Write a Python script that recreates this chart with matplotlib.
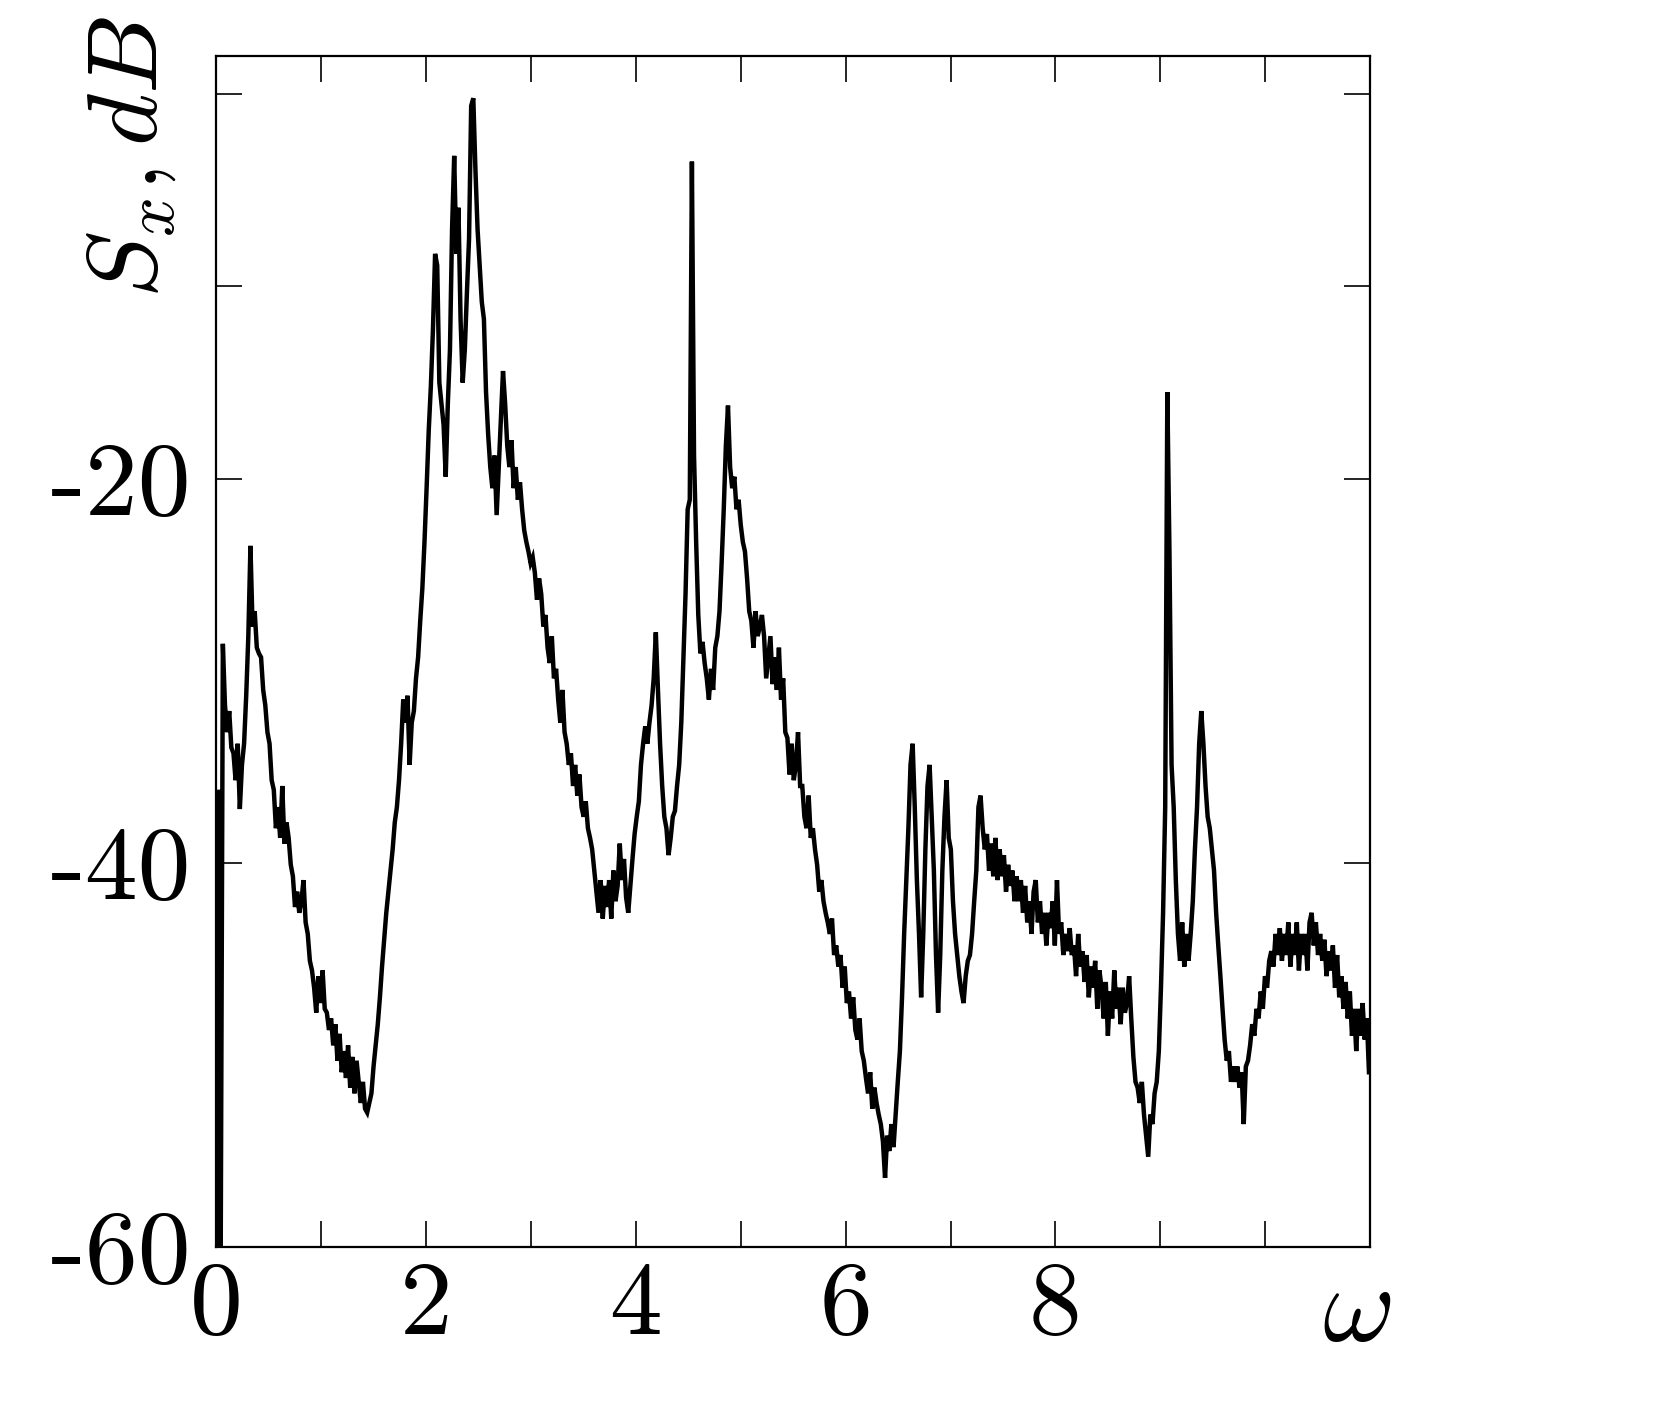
import numpy as np
import matplotlib
matplotlib.use("Agg")
import matplotlib.pyplot as plt

plt.rcParams['font.family'] = ['cmr10', 'DejaVu Serif']
plt.rcParams['mathtext.fontset'] = 'cm'
plt.rcParams['axes.unicode_minus'] = False

# spectrum S_x (dB) sampled on a uniform omega grid
omega_step = 0.02024
S_x = [
    -60.0, -36.2, -60.0, -28.6, -31.8, -33.2, -32.1, -34.0, -34.3, -35.7,
    -33.8, -37.2, -34.9, -33.8, -31.3, -28.2, -23.5, -27.7, -26.9, -28.8,
    -29.1, -29.3, -31.0, -31.8, -33.2, -33.8, -35.7, -36.2, -38.2, -37.1,
    -38.7, -36.0, -39.0, -37.9, -38.7, -40.1, -40.7, -42.3, -41.5, -42.6,
    -42.0, -40.9, -43.1, -43.7, -45.1, -45.6, -46.5, -47.8, -45.9, -47.3,
    -45.6, -47.6, -47.8, -48.7, -48.1, -49.5, -48.4, -50.3, -48.9, -50.9,
    -49.8, -51.2, -49.5, -51.7, -50.1, -52.0, -50.3, -51.4, -52.5, -51.4,
    -52.8, -53.0, -52.5, -52.0, -50.6, -49.5, -48.4, -47.0, -45.4, -44.0,
    -42.6, -41.5, -40.4, -39.3, -37.9, -37.1, -35.7, -33.8, -31.5, -32.7,
    -31.3, -34.9, -32.7, -32.1, -30.4, -29.3, -27.4, -25.7, -23.3, -20.5,
    -17.5, -15.2, -12.2, -8.3, -8.9, -15.0, -16.1, -17.2, -19.9, -16.1,
    -13.3, -7.0, -3.2, -8.3, -5.9, -11.7, -15.0, -13.3, -10.3, -7.5,
    -0.6, -0.2, -3.9, -7.0, -8.9, -10.8, -11.7, -15.5, -17.7, -19.4,
    -20.5, -18.8, -21.9, -19.4, -16.9, -14.4, -16.1, -18.3, -19.4, -18.0,
    -20.5, -19.4, -21.1, -20.2, -21.6, -22.7, -23.3, -23.8, -24.4, -24.1,
    -24.9, -26.3, -25.2, -26.0, -27.7, -27.1, -28.8, -29.6, -28.2, -30.4,
    -29.9, -31.5, -32.7, -31.0, -33.2, -33.8, -34.9, -34.3, -36.0, -34.9,
    -36.5, -35.4, -37.1, -37.6, -36.8, -38.2, -38.7, -39.3, -40.4, -41.5,
    -42.6, -40.9, -42.9, -41.2, -42.3, -40.9, -42.9, -40.4, -42.0, -41.2,
    -39.0, -40.9, -39.8, -41.8, -42.6, -41.2, -39.8, -38.5, -37.6, -36.8,
    -34.9, -33.8, -32.9, -33.8, -32.7, -31.8, -30.4, -28.0, -31.0, -33.8,
    -36.0, -37.6, -38.2, -39.6, -38.7, -37.6, -37.3, -36.0, -34.9, -32.7,
    -29.3, -26.0, -21.6, -21.1, -3.5, -18.8, -23.3, -27.1, -29.1, -28.5,
    -29.6, -30.4, -31.5, -29.9, -31.0, -28.8, -28.2, -26.9, -24.4, -21.6,
    -18.3, -16.2, -19.4, -20.5, -19.9, -21.6, -21.1, -22.4, -23.3, -23.8,
    -25.2, -26.9, -27.4, -28.8, -26.9, -28.2, -27.7, -27.1, -28.2, -30.4,
    -29.3, -28.2, -30.7, -29.3, -31.0, -28.8, -31.5, -30.4, -33.2, -33.5,
    -35.4, -33.8, -35.7, -34.9, -33.2, -36.0, -36.0, -37.6, -38.2, -36.5,
    -38.7, -38.2, -39.3, -40.1, -41.5, -40.9, -42.0, -42.6, -43.1, -43.7,
    -42.9, -44.8, -44.3, -45.4, -44.8, -46.5, -45.4, -47.3, -46.7, -48.1,
    -47.0, -48.7, -49.2, -48.1, -49.8, -50.3, -51.2, -52.0, -50.9, -52.8,
    -51.7, -52.5, -53.1, -53.6, -54.5, -56.4, -54.2, -55.0, -53.6, -54.8,
    -53.1, -51.4, -49.8, -47.0, -43.7, -40.9, -38.2, -34.9, -33.8, -37.1,
    -40.9, -43.7, -47.0, -43.7, -39.3, -36.0, -34.9, -37.6, -40.4, -44.8,
    -47.8, -44.8, -40.4, -37.6, -35.7, -38.7, -39.3, -42.0, -43.7, -44.8,
    -45.9, -46.7, -47.3, -45.9, -45.1, -44.8, -43.7, -42.0, -40.4, -37.1,
    -36.5, -38.2, -39.3, -38.5, -40.4, -39.0, -40.7, -38.7, -40.9, -39.3,
    -40.7, -39.6, -41.5, -40.1, -41.2, -40.4, -42.0, -40.7, -42.0, -40.9,
    -42.6, -41.2, -43.1, -42.0, -43.7, -41.5, -40.9, -43.1, -42.0, -43.7,
    -42.6, -44.3, -42.6, -43.4, -42.0, -44.3, -40.9, -43.7, -43.1, -44.8,
    -43.7, -44.6, -43.4, -44.8, -44.3, -45.9, -43.7, -45.4, -44.6, -46.2,
    -44.8, -47.0, -45.4, -46.5, -45.1, -47.6, -45.6, -46.5, -48.1, -46.2,
    -49.0, -46.7, -48.1, -45.6, -47.6, -46.5, -48.4, -46.5, -47.8, -47.3,
    -45.9, -48.1, -50.1, -51.4, -51.7, -52.5, -51.4, -53.1, -54.2, -55.3,
    -53.1, -53.6, -52.0, -51.4, -49.8, -46.5, -42.6, -37.1, -15.5, -23.8,
    -34.9, -37.1, -40.9, -43.7, -45.1, -43.1, -45.4, -43.7, -45.1, -43.7,
    -42.0, -39.3, -37.1, -33.8, -32.1, -33.8, -36.0, -37.6, -38.2, -39.3,
    -40.4, -42.6, -44.3, -45.9, -47.6, -49.2, -50.3, -49.8, -51.4, -50.6,
    -51.4, -50.6, -51.7, -50.9, -53.6, -50.6, -50.3, -49.5, -48.4, -49.0,
    -47.6, -48.1, -46.7, -47.6, -45.9, -46.5, -45.1, -44.6, -45.4, -43.7,
    -44.8, -43.4, -45.1, -43.7, -44.8, -43.1, -45.4, -43.7, -44.8, -43.1,
    -45.6, -43.7, -44.8, -43.7, -45.6, -43.1, -42.6, -44.3, -43.1, -44.8,
    -43.7, -45.1, -44.0, -45.9, -44.6, -45.6, -44.3, -46.5, -44.8, -47.0,
    -45.9, -47.6, -46.2, -48.1, -46.7, -49.0, -47.6, -49.8, -47.6, -49.0,
    -47.3, -49.2, -48.1, -50.9,
]

x_ticks = [0, 1, 2, 3, 4, 5, 6, 7, 8, 9, 10]
x_labels = ['0', '', '2', '', '4', '', '6', '', '8', '', '']
y_ticks = [-60, -40, -20, -10, 0]
y_labels = ['-60', '-40', '-20', '', '']

omega = np.arange(len(S_x)) * omega_step

fig = plt.figure(figsize=(16.64, 14.27), dpi=100)
ax = fig.add_axes([0.1301, 0.1261, 0.6932, 0.8347])
ax.plot(omega, S_x, color='black', lw=3.2, solid_joinstyle='miter')
ax.set_xlim(0, 11)
ax.set_ylim(-60, 2)

ax.set_xticks(x_ticks)
ax.set_xticklabels(x_labels)
ax.set_yticks(y_ticks)
ax.set_yticklabels(y_labels)
ax.tick_params(axis='both', direction='in', length=19, width=1.2,
               top=True, right=True, labelsize=76)
ax.tick_params(axis='x', pad=10)
ax.tick_params(axis='y', pad=18)
for sp in ax.spines.values():
    sp.set_linewidth(1.6)

fig.text(0.0790, 0.890, r'$S_x,dB$', rotation=90, ha='center', va='center',
         fontsize=72)
fig.text(0.815, 0.080, r'$\omega$', ha='center', va='center', fontsize=80)

fig.savefig('out.png', dpi=100)
